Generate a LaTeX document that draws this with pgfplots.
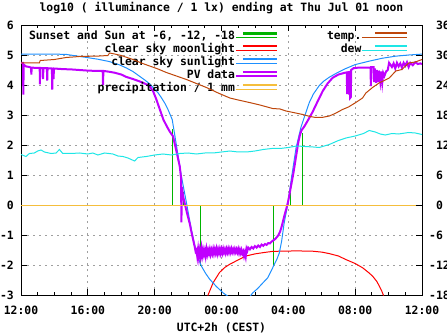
\documentclass[border=0pt]{standalone}
\usepackage{fontspec}
\setmainfont{DejaVu Sans Mono}
\usepackage{pgfplots}
\pgfplotsset{compat=1.18}
\definecolor{cgreen}{RGB}{0,180,0}
\definecolor{cred}{RGB}{255,0,0}
\definecolor{cblue}{RGB}{30,144,255}
\definecolor{cpurple}{RGB}{192,0,255}
\definecolor{corange}{RGB}{245,190,60}
\definecolor{cbrown}{RGB}{190,70,10}
\definecolor{ccyan}{RGB}{30,230,230}
\begin{document}
\bfseries\fontsize{11.4}{13.5}\selectfont
\begin{tikzpicture}
\path[use as bounding box] (0,0) rectangle (447pt,335pt);
\begin{axis}[
  at={(21pt,40pt)}, anchor=south west, scale only axis,
  width=401pt, height=270pt,
  xmin=0, xmax=24, ymin=-3, ymax=6,
  axis line style={line width=0.9pt},
  xtick={0,4,...,24},
  xticklabels={12:00,16:00,20:00,00:00,04:00,08:00,12:00},
  minor x tick num=3,
  ytick={-3,-2,...,6},
  yticklabels={-3,-2,-1,0,1,2,3,4,5,6},
  ytick pos=left, xtick pos=both,
  tick align=inside,
  major tick length=6pt, minor tick length=3pt,
  every tick/.style={black, line width=0.8pt},
  grid=major,
  major grid style={gray!75, line width=0.8pt, dash pattern=on 2pt off 4pt},
  xticklabel style={anchor=base, inner sep=0pt, yshift=-19pt},
  yticklabel style={anchor=east, inner sep=0pt, xshift=-7pt},
  title={log10 ( illuminance / 1 lx) ending at Thu Jul 01 noon},
  title style={anchor=base, at={(0.5,1)}, yshift=8pt, inner sep=0pt},
  xlabel={UTC+2h (CEST)},
  xlabel style={anchor=base, at={(0.5,0)}, yshift=-36pt, inner sep=0pt},
  unbounded coords=jump,
  legend plot pos=right,
  legend cell align=right,
  legend style={draw=none, fill=none, at={(0.641,0.978)}, anchor=north east,
    row sep=0pt, inner sep=0pt, outer sep=0pt,
    nodes={inner sep=0pt, text height=9pt, text depth=3.9pt}},
  legend image code/.code={\path (0pt,0pt) -- (41pt,0pt); \draw[#1, line width=2.2pt] (7pt,4pt) -- (41pt,4pt);},
  every axis plot/.append style={line width=1pt},
]
\addplot[cgreen] coordinates {(9.04,0)(9.04,2.52)(9.05,nan)(9.75,0)(9.75,0.45)(9.76,nan)(10.76,0)(10.76,-2.04)(10.77,nan)(15.12,0)(15.12,-2.04)(15.13,nan)(16.1,0)(16.1,0.4)(16.11,nan)(16.86,0)(16.86,2.4)};
\addlegendentry{Sunset and Sun at -6, -12, -18}
\addplot[cred] coordinates {(11.18,-3.02)(11.5,-2.59)(11.88,-2.25)(12.2,-2.08)(12.48,-1.98)(13.0,-1.83)(13.47,-1.7)(14.0,-1.63)(14.47,-1.59)(15.0,-1.55)(15.46,-1.54)(16.5,-1.53)(17.45,-1.54)(18.0,-1.57)(18.45,-1.62)(19.0,-1.7)(19.45,-1.82)(20.0,-1.95)(20.44,-2.09)(20.8,-2.25)(21.04,-2.37)(21.3,-2.55)(21.44,-2.7)(21.6,-2.88)(21.7,-3.02)};
\addlegendentry{clear sky moonlight}
\addplot[cblue] coordinates {(0,5.03)(1,5.03)(2,5.03)(2.7,5.02)(3.3,4.97)(3.9,4.92)(4.6,4.86)(5.3,4.78)(5.9,4.67)(6.3,4.57)(6.7,4.45)(7.1,4.29)(7.4,4.17)(7.7,4.04)(8.0,3.86)(8.2,3.74)(8.4,3.58)(8.6,3.4)(8.8,3.18)(9.05,2.85)(9.3,2.0)(9.6,0.96)(9.9,0.08)(10.05,-0.38)(10.2,-0.82)(10.35,-1.22)(10.5,-1.58)(10.65,-1.83)(10.8,-2.04)(11.05,-2.28)(11.3,-2.48)(11.7,-2.72)(12.1,-2.93)(12.4,-3.05)(13.0,-3.2)(13.7,-3.05)(13.87,-2.93)(14.17,-2.78)(14.47,-2.6)(14.76,-2.43)(14.97,-2.2)(15.16,-1.98)(15.32,-1.8)(15.46,-1.6)(15.6,-1.2)(15.75,-0.6)(15.96,0.0)(16.16,0.8)(16.46,1.9)(16.76,2.6)(17.0,3.0)(17.25,3.41)(17.5,3.7)(17.85,3.98)(18.1,4.12)(18.45,4.26)(18.9,4.4)(19.4,4.54)(20.0,4.68)(20.8,4.79)(21.6,4.89)(22.4,4.96)(23.2,5.0)(24,5.03)};
\addlegendentry{clear sky sunlight}
\addplot[cpurple, line width=2pt] coordinates {(0,4.74)(0.12,4.74)(0.14,3.68)(0.16,4.68)(0.3,4.62)(0.5,4.6)(0.6,4.58)(0.62,4.35)(0.64,4.58)(0.9,4.57)(1.12,4.57)(1.13,4.02)(1.15,4.57)(1.3,4.56)(1.32,4.2)(1.34,4.56)(1.55,4.56)(1.57,4.15)(1.59,4.56)(1.85,4.55)(1.87,3.85)(1.89,4.55)(1.93,4.55)(1.95,4.2)(1.97,4.55)(2.5,4.53)(3.0,4.52)(3.5,4.5)(4.0,4.48)(4.5,4.47)(4.89,4.47)(4.91,4.0)(4.93,4.47)(5.3,4.44)(5.6,4.41)(6.0,4.35)(6.3,4.27)(6.7,4.2)(7.1,4.12)(7.4,4.05)(7.7,3.96)(7.9,3.8)(8.1,3.52)(8.3,3.2)(8.52,2.85)(8.72,2.63)(8.9,2.45)(9.1,2.29)(9.3,1.8)(9.5,1.29)(9.58,0.9)(9.6,-0.58)(9.63,0.6)(9.7,0.3)(9.8,0.05)(9.95,-0.3)(10.1,-0.62)(10.2,-0.9)(10.3,-1.15)(10.4,-1.4)(10.45,-1.55)
(10.50,-1.50)(10.55,-1.72)(10.60,-1.48)(10.65,-1.75)(10.70,-1.52)(10.75,-1.70)(10.80,-1.45)(10.85,-1.68)(10.90,-1.50)(10.95,-1.66)(11.00,-1.52)(11.05,-1.70)(11.10,-1.47)(11.15,-1.64)(11.20,-1.50)(11.25,-1.62)(11.30,-1.48)(11.35,-1.64)(11.40,-1.50)(11.45,-1.62)(11.50,-1.47)(11.55,-1.62)(11.60,-1.48)(11.65,-1.60)(11.70,-1.46)(11.75,-1.62)(11.80,-1.48)(11.85,-1.60)(11.90,-1.47)(11.95,-1.61)(12.00,-1.48)(12.05,-1.60)(12.10,-1.46)(12.15,-1.58)(12.20,-1.48)(12.25,-1.60)(12.30,-1.47)(12.35,-1.58)(12.40,-1.46)(12.45,-1.58)(12.50,-1.47)(12.55,-1.58)(12.60,-1.46)(12.65,-1.57)(12.70,-1.48)(12.75,-1.58)(12.80,-1.47)(12.85,-1.57)(12.90,-1.48)(12.95,-1.58)(13.00,-1.47)(13.05,-1.60)(13.10,-1.49)(13.15,-1.60)(13.20,-1.50)(13.25,-1.62)(13.30,-1.55)(13.35,-1.70)(13.40,-1.58)(13.45,-1.72)(13.50,-1.45)(13.55,-1.52)(13.60,-1.42)(13.70,-1.48)(13.80,-1.40)(13.90,-1.45)(14.0,-1.37)(14.1,-1.42)(14.2,-1.35)(14.3,-1.40)(14.4,-1.32)(14.5,-1.36)(14.6,-1.30)(14.7,-1.33)(14.8,-1.27)(14.9,-1.28)(15.0,-1.22)(15.1,-1.18)(15.2,-1.14)(15.3,-1.08)(15.4,-1.01)(15.5,-0.9)(15.6,-0.72)(15.7,-0.5)(15.8,-0.28)(15.9,-0.08)(16.0,0.15)(16.1,0.45)(16.2,0.75)(16.3,1.05)(16.4,1.4)(16.5,1.75)(16.6,2.1)(16.7,2.35)(16.8,2.5)(16.96,2.62)(17.2,2.85)(17.45,3.1)(17.75,3.45)(18.05,3.79)(18.35,4.05)(18.65,4.24)(19.0,4.35)(19.4,4.41)(19.5,4.42)(19.52,3.7)(19.55,4.42)(19.62,4.43)(19.64,3.68)(19.67,4.0)(19.70,3.57)(19.74,3.6)(19.76,4.5)(19.9,4.56)(20.2,4.58)(20.6,4.58)(20.92,4.58)(20.94,3.96)(20.96,4.6)(21.1,4.6)(21.13,4.1)(21.18,4.55)(21.25,4.07)(21.3,4.5)(21.38,4.1)(21.42,4.48)(21.5,4.12)(21.55,4.45)(21.62,4.07)(21.68,4.4)(21.75,4.3)(21.85,4.45)(21.95,4.5)(22.03,4.74)(22.2,4.6)(22.3,4.72)(22.4,4.55)(22.5,4.74)(22.6,4.62)(22.7,4.72)(22.8,4.58)(22.9,4.74)(23.0,4.64)(23.1,4.76)(23.2,4.6)(23.3,4.74)(23.45,4.66)(23.6,4.76)(23.75,4.7)(23.9,4.72)(24,4.7)};
\addlegendentry{PV data}
\addplot[corange] coordinates {(0,0)(24,0)};
\addlegendentry{precipitation / 1 mm}
\end{axis}
\begin{axis}[
  at={(21pt,40pt)}, anchor=south west, scale only axis,
  width=401pt, height=270pt,
  xmin=0, xmax=24, ymin=-18, ymax=36,
  axis x line=none, axis y line*=right,
  axis line style={line width=0.9pt},
  ytick={-18,-12,...,36},
  yticklabels={-18,-12,-6,\phantom{-}0,\phantom{-}6,\phantom{-}12,\phantom{-}18,\phantom{-}24,\phantom{-}30,\phantom{-}36},
  tick align=inside, major tick length=6pt,
  every tick/.style={black, line width=0.8pt},
  yticklabel style={anchor=west, inner sep=0pt, xshift=7pt},
  legend plot pos=right,
  legend cell align=right,
  legend style={draw=none, fill=none, at={(0.965,0.978)}, anchor=north east,
    row sep=0pt, inner sep=0pt, outer sep=0pt,
    nodes={inner sep=0pt, text height=9pt, text depth=3.9pt}},
  legend image code/.code={\path (0pt,0pt) -- (45pt,0pt); \draw[#1, line width=2.2pt] (13pt,4pt) -- (45pt,4pt);},
  every axis plot/.append style={line width=1pt},
]
\addplot[cbrown] coordinates {(0,28.4)(1.1,28.4)(1.15,28.9)(2.0,29.1)(2.7,29.5)(3.5,29.7)(4.7,29.8)(5.2,29.9)(5.3,30.4)(5.6,30.2)(6.0,29.9)(6.7,29.1)(7.2,28.4)(7.7,27.8)(8.2,27.2)(8.7,26.5)(9.3,25.8)(9.9,25.1)(10.5,24.3)(11.1,23.5)(11.8,22.4)(12.5,21.4)(13.0,21.0)(13.67,20.5)(14.3,20.0)(15.06,19.3)(15.5,19.2)(15.86,18.8)(16.3,18.5)(16.86,18.1)(17.3,17.7)(17.65,17.5)(18.0,17.5)(18.45,17.8)(18.8,18.3)(19.24,19.1)(19.6,19.6)(20.04,20.5)(20.44,21.4)(20.64,22.4)(21.04,23.5)(21.43,24.4)(22.04,25.4)(22.43,26.8)(22.8,27.1)(23.2,28.4)(23.6,28.6)(24,29.1)};
\addlegendentry{temp.}
\addplot[ccyan] coordinates {(0,10.1)(0.3,9.7)(0.5,10.3)(0.8,10.4)(1.0,10.8)(1.2,11.0)(1.4,10.6)(1.8,10.3)(2.1,10.4)(2.3,11.1)(2.5,10.3)(3.0,10.3)(3.5,10.4)(4.0,10.2)(4.3,10.4)(4.6,10.0)(5.0,10.4)(5.5,10.2)(5.8,9.8)(6.1,9.7)(6.4,9.4)(6.8,8.8)(7.0,9.5)(7.5,9.7)(8.0,10.0)(8.5,10.2)(9.0,10.0)(9.5,10.3)(10.0,10.4)(10.5,10.2)(11.0,10.4)(11.5,10.4)(12.0,10.6)(12.5,10.8)(13.0,10.6)(13.5,10.6)(14.0,10.8)(14.5,11.1)(15.0,11.3)(15.5,11.3)(16.0,11.5)(16.5,11.8)(17.0,11.7)(17.5,11.6)(17.85,11.5)(18.45,12.1)(19.0,12.9)(19.45,13.4)(20.0,13.8)(20.5,14.3)(20.84,14.9)(21.2,14.6)(21.5,14.2)(21.8,14.0)(22.2,14.3)(22.6,14.2)(23.2,14.5)(23.6,14.4)(24,14.1)};
\addlegendentry{dew}
\end{axis}
\end{tikzpicture}
\end{document}
